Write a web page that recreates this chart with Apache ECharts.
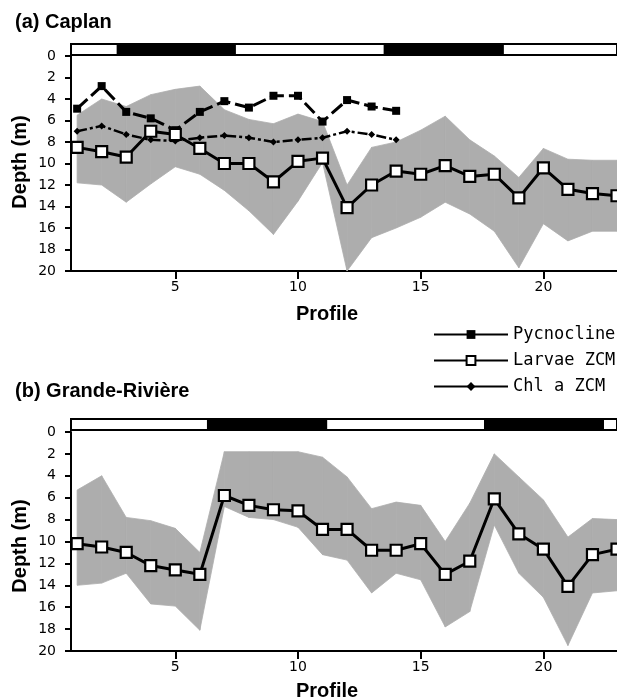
<!DOCTYPE html>
<html>
<head>
<meta charset="utf-8">
<script src="https://cdn.jsdelivr.net/npm/echarts@6/dist/echarts.min.js"></script>
<style>html,body{margin:0;padding:0;background:#fff}#c{width:617px;height:700px}</style>
</head>
<body>
<div id="c"></div>
<script>
// ---------- data ----------
const profiles = [1,2,3,4,5,6,7,8,9,10,11,12,13,14,15,16,17,18,19,20,21,22,23];
const xTicks = [5,10,15,20];

// (a) Caplan
const pycnoA = [4.9,2.8,5.2,5.8,6.9,5.2,4.2,4.8,3.7,3.7,6.1,4.1,4.7,5.1];
const chlA   = [7.0,6.5,7.3,7.8,7.9,7.6,7.4,7.6,8.0,7.8,7.6,7.0,7.3,7.8];
const larvaeA = [8.5,8.9,9.4,7.0,7.3,8.6,10.0,10.0,11.7,9.8,9.5,14.1,12.0,10.7,11.0,10.2,11.2,11.0,13.2,10.4,12.4,12.8,13.0];
const bandUpperA = [5.5,4.0,4.7,3.6,3.1,2.8,5.0,5.9,6.3,5.4,6.1,12.0,8.5,8.0,6.9,5.6,7.8,9.3,11.3,8.6,9.6,9.7,9.7];
const bandLowerA = [11.8,12.0,13.6,11.9,10.3,11.0,12.5,14.4,16.6,13.5,9.9,20.0,16.9,16.0,15.0,13.6,14.7,16.3,19.7,15.6,17.2,16.3,16.3];
const darkA = [[2.61,7.47],[13.49,18.39]];

// (b) Grande-Rivière
const larvaeB = [10.2,10.5,11.0,12.2,12.6,13.0,5.8,6.7,7.1,7.2,8.9,8.9,10.8,10.8,10.2,13.0,11.8,6.1,9.3,10.7,14.1,11.2,10.7];
const bandUpperB = [5.3,4.0,7.8,8.1,8.8,11.0,1.8,1.8,1.8,1.8,2.3,4.1,7.0,6.4,6.7,10.0,6.5,2.0,4.1,6.2,9.6,7.9,8.0];
const bandLowerB = [14.0,13.8,12.9,15.7,15.9,18.1,6.8,7.8,8.0,8.7,11.2,11.7,14.7,12.9,13.5,17.8,16.4,8.5,12.9,15.1,19.5,14.7,14.5];
const darkB = [[6.29,11.19],[17.58,22.47]];

const names = ['Pycnocline','Larvae ZCM','Chl a ZCM'];
// ---------- helpers ----------
const pairs = (vals) => vals.map((v,i) => [profiles[i], v]);
const segs = (up, lo) => profiles.slice(0,-1).map((p,i) => [p, up[i], lo[i], profiles[i+1], up[i+1], lo[i+1]]);
const XMIN = 0.75, XMAX = 23;
const bandColor = '#adadad';

function mainX(gi){
  return {
    type:'value', gridIndex:gi, min:XMIN, max:XMAX, position:'bottom',
    axisLine:{show:true,onZero:false,lineStyle:{color:'#000',width:2}},
    axisTick:{show:true,inside:false,length:8,lineStyle:{color:'#000',width:2},customValues:xTicks},
    axisLabel:{color:'#000',fontFamily:'DejaVu Sans',fontSize:14,margin:9,customValues:xTicks},
    splitLine:{show:false}
  };
}
function mainY(gi){
  return {
    type:'value', gridIndex:gi, min:0, max:20, interval:2, inverse:true,
    axisLine:{show:true,onZero:false,lineStyle:{color:'#000',width:2}},
    axisTick:{show:true,inside:false,length:6,lineStyle:{color:'#000',width:2}},
    axisLabel:{color:'#000',fontFamily:'DejaVu Sans',fontSize:14,margin:15},
    splitLine:{show:false}
  };
}
function barX(gi){ return {type:'value',gridIndex:gi,min:XMIN,max:XMAX,show:false}; }
function barY(gi){ return {type:'value',gridIndex:gi,min:0,max:1,show:false}; }

function barSeries(xi, data){
  return {
    type:'custom', xAxisIndex:xi, yAxisIndex:xi, data:data, silent:true,
    renderItem:function(params, api){
      const s = api.coord([api.value(0), 0]);
      const e = api.coord([api.value(1), 0]);
      const cs = params.coordSys;
      return {type:'rect', shape:{x:s[0], y:cs.y, width:e[0]-s[0], height:cs.height}, style:{fill:'#000'}};
    }
  };
}
function bandSeries(xi, up, lo){
  return {
    type:'custom', xAxisIndex:xi, yAxisIndex:xi, data:segs(up, lo), silent:true, z:1,
    renderItem:function(params, api){
      const a = api.coord([api.value(0), api.value(1)]);
      const b = api.coord([api.value(3), api.value(4)]);
      const c = api.coord([api.value(3), api.value(5)]);
      const d = api.coord([api.value(0), api.value(2)]);
      return {type:'polygon', shape:{points:[a,b,c,d]}, style:{fill:bandColor, stroke:bandColor, lineWidth:0.8}};
    }
  };
}
const larvaeStyle = (xi, data) => ({
  name:'Larvae ZCM', type:'line', xAxisIndex:xi, yAxisIndex:xi, data:pairs(data),
  symbol:'rect', symbolSize:11, showAllSymbol:true,
  lineStyle:{color:'#000',width:3},
  itemStyle:{color:'#fff',borderColor:'#000',borderWidth:2.2}, z:5
});

const option = {
  animation:false,
  backgroundColor:'#fff',
  legend:{
    data:names, orient:'vertical', left:428, top:321,
    itemWidth:74, itemHeight:11, itemGap:9,
    lineStyle:{type:'solid', width:2},
    textStyle:{fontFamily:'DejaVu Sans Mono',fontSize:17,color:'#000'}
  },
  grid:[
    {left:71, top:44, width:550, height:11, show:true, borderColor:'#000', borderWidth:2, backgroundColor:'#fff'},
    {left:71, top:56, width:550, height:215},
    {left:71, top:419, width:550, height:11, show:true, borderColor:'#000', borderWidth:2, backgroundColor:'#fff'},
    {left:71, top:432, width:550, height:219}
  ],
  xAxis:[barX(0), mainX(1), barX(2), mainX(3)],
  yAxis:[barY(0), mainY(1), barY(2), mainY(3)],
  series:[
    barSeries(0, darkA),
    bandSeries(1, bandUpperA, bandLowerA),
    {name:'Pycnocline', type:'line', xAxisIndex:1, yAxisIndex:1, data:pairs(pycnoA),
     symbol:'rect', symbolSize:8, lineStyle:{color:'#000',width:3,type:[14,5]},
     itemStyle:{color:'#000'}, z:4},
    {name:'Chl a ZCM', type:'line', xAxisIndex:1, yAxisIndex:1, data:pairs(chlA),
     symbol:'diamond', symbolSize:7, lineStyle:{color:'#000',width:2.5,type:[10,3,3,3]},
     itemStyle:{color:'#000'}, z:4},
    larvaeStyle(1, larvaeA),
    barSeries(2, darkB),
    bandSeries(3, bandUpperB, bandLowerB),
    larvaeStyle(3, larvaeB)
  ],
  graphic:[
    {type:'text', left:15, top:12, style:{text:'(a) Caplan', font:'bold 20px "Liberation Sans", Arial, sans-serif', fill:'#000'}},
    {type:'text', left:15, top:381, style:{text:'(b) Grande-Rivière', font:'bold 20px "Liberation Sans", Arial, sans-serif', fill:'#000'}},
    {type:'text', x:20, y:162, rotation:Math.PI/2, style:{text:'Depth (m)', font:'bold 20px "Liberation Sans", Arial, sans-serif', fill:'#000', align:'center', verticalAlign:'middle'}},
    {type:'text', x:20, y:546, rotation:Math.PI/2, style:{text:'Depth (m)', font:'bold 20px "Liberation Sans", Arial, sans-serif', fill:'#000', align:'center', verticalAlign:'middle'}},
    {type:'text', x:327, y:314, style:{text:'Profile', font:'bold 20px "Liberation Sans", Arial, sans-serif', fill:'#000', align:'center', verticalAlign:'middle'}},
    {type:'text', x:327, y:691, style:{text:'Profile', font:'bold 20px "Liberation Sans", Arial, sans-serif', fill:'#000', align:'center', verticalAlign:'middle'}}
  ]
};
const chart = echarts.init(document.getElementById('c'), null, {renderer:'canvas'});
chart.setOption(option);
</script>
</body>
</html>
